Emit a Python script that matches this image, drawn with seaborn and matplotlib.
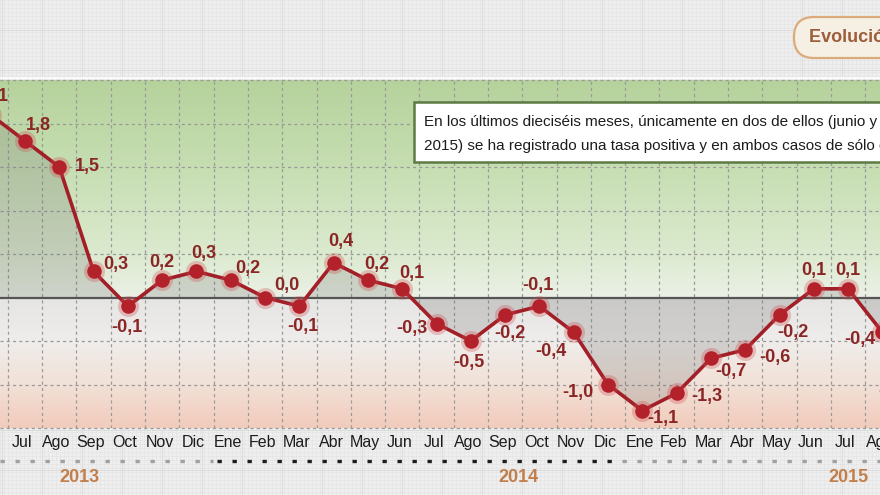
import numpy as np
import pandas as pd
import matplotlib
matplotlib.use("Agg")
import matplotlib.pyplot as plt
import seaborn as sns
from matplotlib.patches import Rectangle, FancyBboxPatch
from matplotlib.lines import Line2D

# ---------------- data ----------------
months = ["Jun", "Jul", "Ago", "Sep", "Oct", "Nov", "Dic",
          "Ene", "Feb", "Mar", "Abr", "May", "Jun", "Jul", "Ago", "Sep", "Oct", "Nov", "Dic",
          "Ene", "Feb", "Mar", "Abr", "May", "Jun", "Jul", "Ago", "Sep"]
values = [2.1, 1.8, 1.5, 0.3, -0.1, 0.2, 0.3,
          0.2, 0.0, -0.1, 0.4, 0.2, 0.1, -0.3, -0.5, -0.2, -0.1, -0.4, -1.0,
          -1.3, -1.1, -0.7, -0.6, -0.2, 0.1, 0.1, -0.4, -0.9]
point_labels = ["2,1", "1,8", "1,5", "0,3", "-0,1", "0,2", "0,3",
                "0,2", "0,0", "-0,1", "0,4", "0,2", "0,1", "-0,3", "-0,5", "-0,2", "-0,1", "-0,4", "-1,0",
                "-1,1", "-1,3", "-0,7", "-0,6", "-0,2", "0,1", "0,1", "-0,4", "-0,9"]
years = ["2013", "2014", "2015"]
note_lines = ["En los últimos dieciséis meses, únicamente en dos de ellos (junio y julio de",
              "2015) se ha registrado una tasa positiva y en ambos casos de sólo el 0,1%"]
title_text = "Evolución de la tasa de variación anual del IPC"

# ---------------- layout / style ----------------
W, H = 880, 495
# label offsets in pixels (dx right, dy down)
label_off = [(5, -18), (13, -15), (28, 0), (22, -7), (-1, 21), (0, -18), (7, -18),
             (17, -12), (22, -12), (4, 20), (7, -21), (9, -16), (10, -15), (-25, 5),
             (-2, 22), (5, 19), (-2, -21), (-23, 19), (-30, 8), (20, 8), (30, 3),
             (20, 13), (30, 8), (13, 18), (0, -18), (0, -18), (-23, 7), (-23, 16)]
year_x = [2.6, 15.4, 25.0]
x0, x1 = 0.271, 25.93
ymin, ymax = -1.5, 2.5
plot_top, plot_bot = 80, 428

line_col = "#a31f28"
lab_col = "#8a2626"
font = "Liberation Sans"

sns.set_theme(style="white")
plt.rcParams["font.family"] = [font, "DejaVu Sans"]

fig = plt.figure(figsize=(W / 100, H / 100), dpi=100)

# paper background
bg = fig.add_axes([0, 0, 1, 1], zorder=0)
bg.set_xlim(0, W)
bg.set_ylim(H, 0)
bg.set_facecolor("#eeeeee")
for xx in np.arange(0, W, 4):
    bg.axvline(xx, color="#e4e4e4", lw=0.5)
for yy in np.arange(0, H, 4):
    bg.axhline(yy, color="#e4e4e4", lw=0.5)
for xx in np.arange(2, W, 40):
    bg.axvline(xx, color="#dadada", lw=0.6)
for yy in np.arange(30, H, 40):
    bg.axhline(yy, color="#dadada", lw=0.6)
bg.axhline(78, color="#fafafa", lw=1.5)
bg.set_xticks([]); bg.set_yticks([])
for s in bg.spines.values():
    s.set_visible(False)

# main chart
ax = fig.add_axes([0, (H - plot_bot) / H, 1, (plot_bot - plot_top) / H], zorder=1)

# gradient background
ys = np.linspace(ymax, ymin, 400)
stops_y = [2.5, 1.5, 0.5, 0.001, -0.001, -0.5, -1.0, -1.5]
stops_c = np.array([[182, 210, 156], [198, 222, 178], [220, 234, 207], [235, 241, 230],
                    [229, 229, 227], [239, 237, 235], [242, 225, 215], [241, 203, 187]]) / 255
grad = np.stack([np.interp(ys, stops_y[::-1], stops_c[::-1, k]) for k in range(3)], axis=-1)
ax.imshow(grad[:, None, :], extent=[x0, x1, ymin, ymax], aspect="auto", zorder=0)

# grid
for i in range(-1, len(months)):
    ax.axvline(i + 0.5, color="#9a9a9a", lw=0.9, ls=(0, (2.5, 2.5)), zorder=1)
for yv in [-1.5, -1.0, -0.5, 0.5, 1.0, 1.5, 2.0, 2.5]:
    ax.axhline(yv, color="#9a9a9a", lw=0.9, ls=(0, (2.5, 2.5)), zorder=1, clip_on=False)

xs = np.arange(len(values))
df = pd.DataFrame({"x": xs, "y": values})

ax.fill_between(xs, values, 0, color="#6a6a6a", alpha=0.22, lw=0, zorder=2)
ax.axhline(0, color="#555555", lw=1.6, zorder=3)

sns.lineplot(data=df, x="x", y="y", ax=ax, color=line_col, lw=2.6, zorder=4)
sns.scatterplot(data=df, x="x", y="y", ax=ax, color="#d04a50", s=230, alpha=0.3,
                linewidth=0, zorder=5, legend=False)
sns.scatterplot(data=df, x="x", y="y", ax=ax, color="#b3222b", s=110,
                linewidth=0, zorder=6, legend=False)

for i, (v, t) in enumerate(zip(values, point_labels)):
    dx, dy = label_off[i]
    ax.annotate(t, (xs[i], v), xytext=(dx, -dy), textcoords="offset pixels",
                ha="center", va="center", fontsize=13, fontweight="bold",
                color=lab_col, zorder=7, annotation_clip=False)

ax.set_xticks(xs - 0.08)
ax.set_xticklabels(months, fontsize=11.5, color="#1c1c1c")
ax.tick_params(axis="x", length=0, pad=5)
ax.set_yticks([])
ax.set_xlabel("")
ax.set_ylabel("")
for s in ax.spines.values():
    s.set_visible(False)
ax.set_xlim(x0, x1)
ax.set_ylim(ymin, ymax)

# overlay
ov = fig.add_axes([0, 0, 1, 1], zorder=3)
ov.set_xlim(0, W)
ov.set_ylim(H, 0)
ov.axis("off")

# dotted timeline
ov.add_line(Line2D([0, 213], [461, 461], color="#a0a0a0", lw=2.4, ls=(0, (1.3, 3.2))))
ov.add_line(Line2D([217, 618], [461, 461], color="#1e1e1e", lw=2.4, ls=(0, (1.3, 3.2))))
ov.add_line(Line2D([622, W], [461, 461], color="#a0a0a0", lw=2.4, ls=(0, (1.3, 3.2))))

for yr, xp in zip(years, year_x):
    px = (xp - x0) / (x1 - x0) * W
    ov.text(px, 477, yr, ha="center", va="center", fontsize=13, fontweight="bold",
            color="#c27f4c")

# note box
ov.add_patch(Rectangle((414, 102), 520, 60, facecolor="white", edgecolor="#5e7a44",
                       lw=1.8, zorder=5))
ov.text(424, 122, note_lines[0], ha="left", va="center", fontsize=11, color="#1c1c1c", zorder=6)
ov.text(424, 146, note_lines[1], ha="left", va="center", fontsize=11, color="#1c1c1c", zorder=6)

# title pill
ov.add_patch(FancyBboxPatch((794, 17), 400, 41, boxstyle="round,pad=0,rounding_size=20",
                            facecolor="#f6efe3", edgecolor="#dcab7c", lw=1.6, zorder=5))
ov.text(809, 38, title_text, ha="left", va="center", fontsize=13, fontweight="bold",
        color="#9b5d3b", zorder=6)

fig.savefig("out.png", dpi=100)
